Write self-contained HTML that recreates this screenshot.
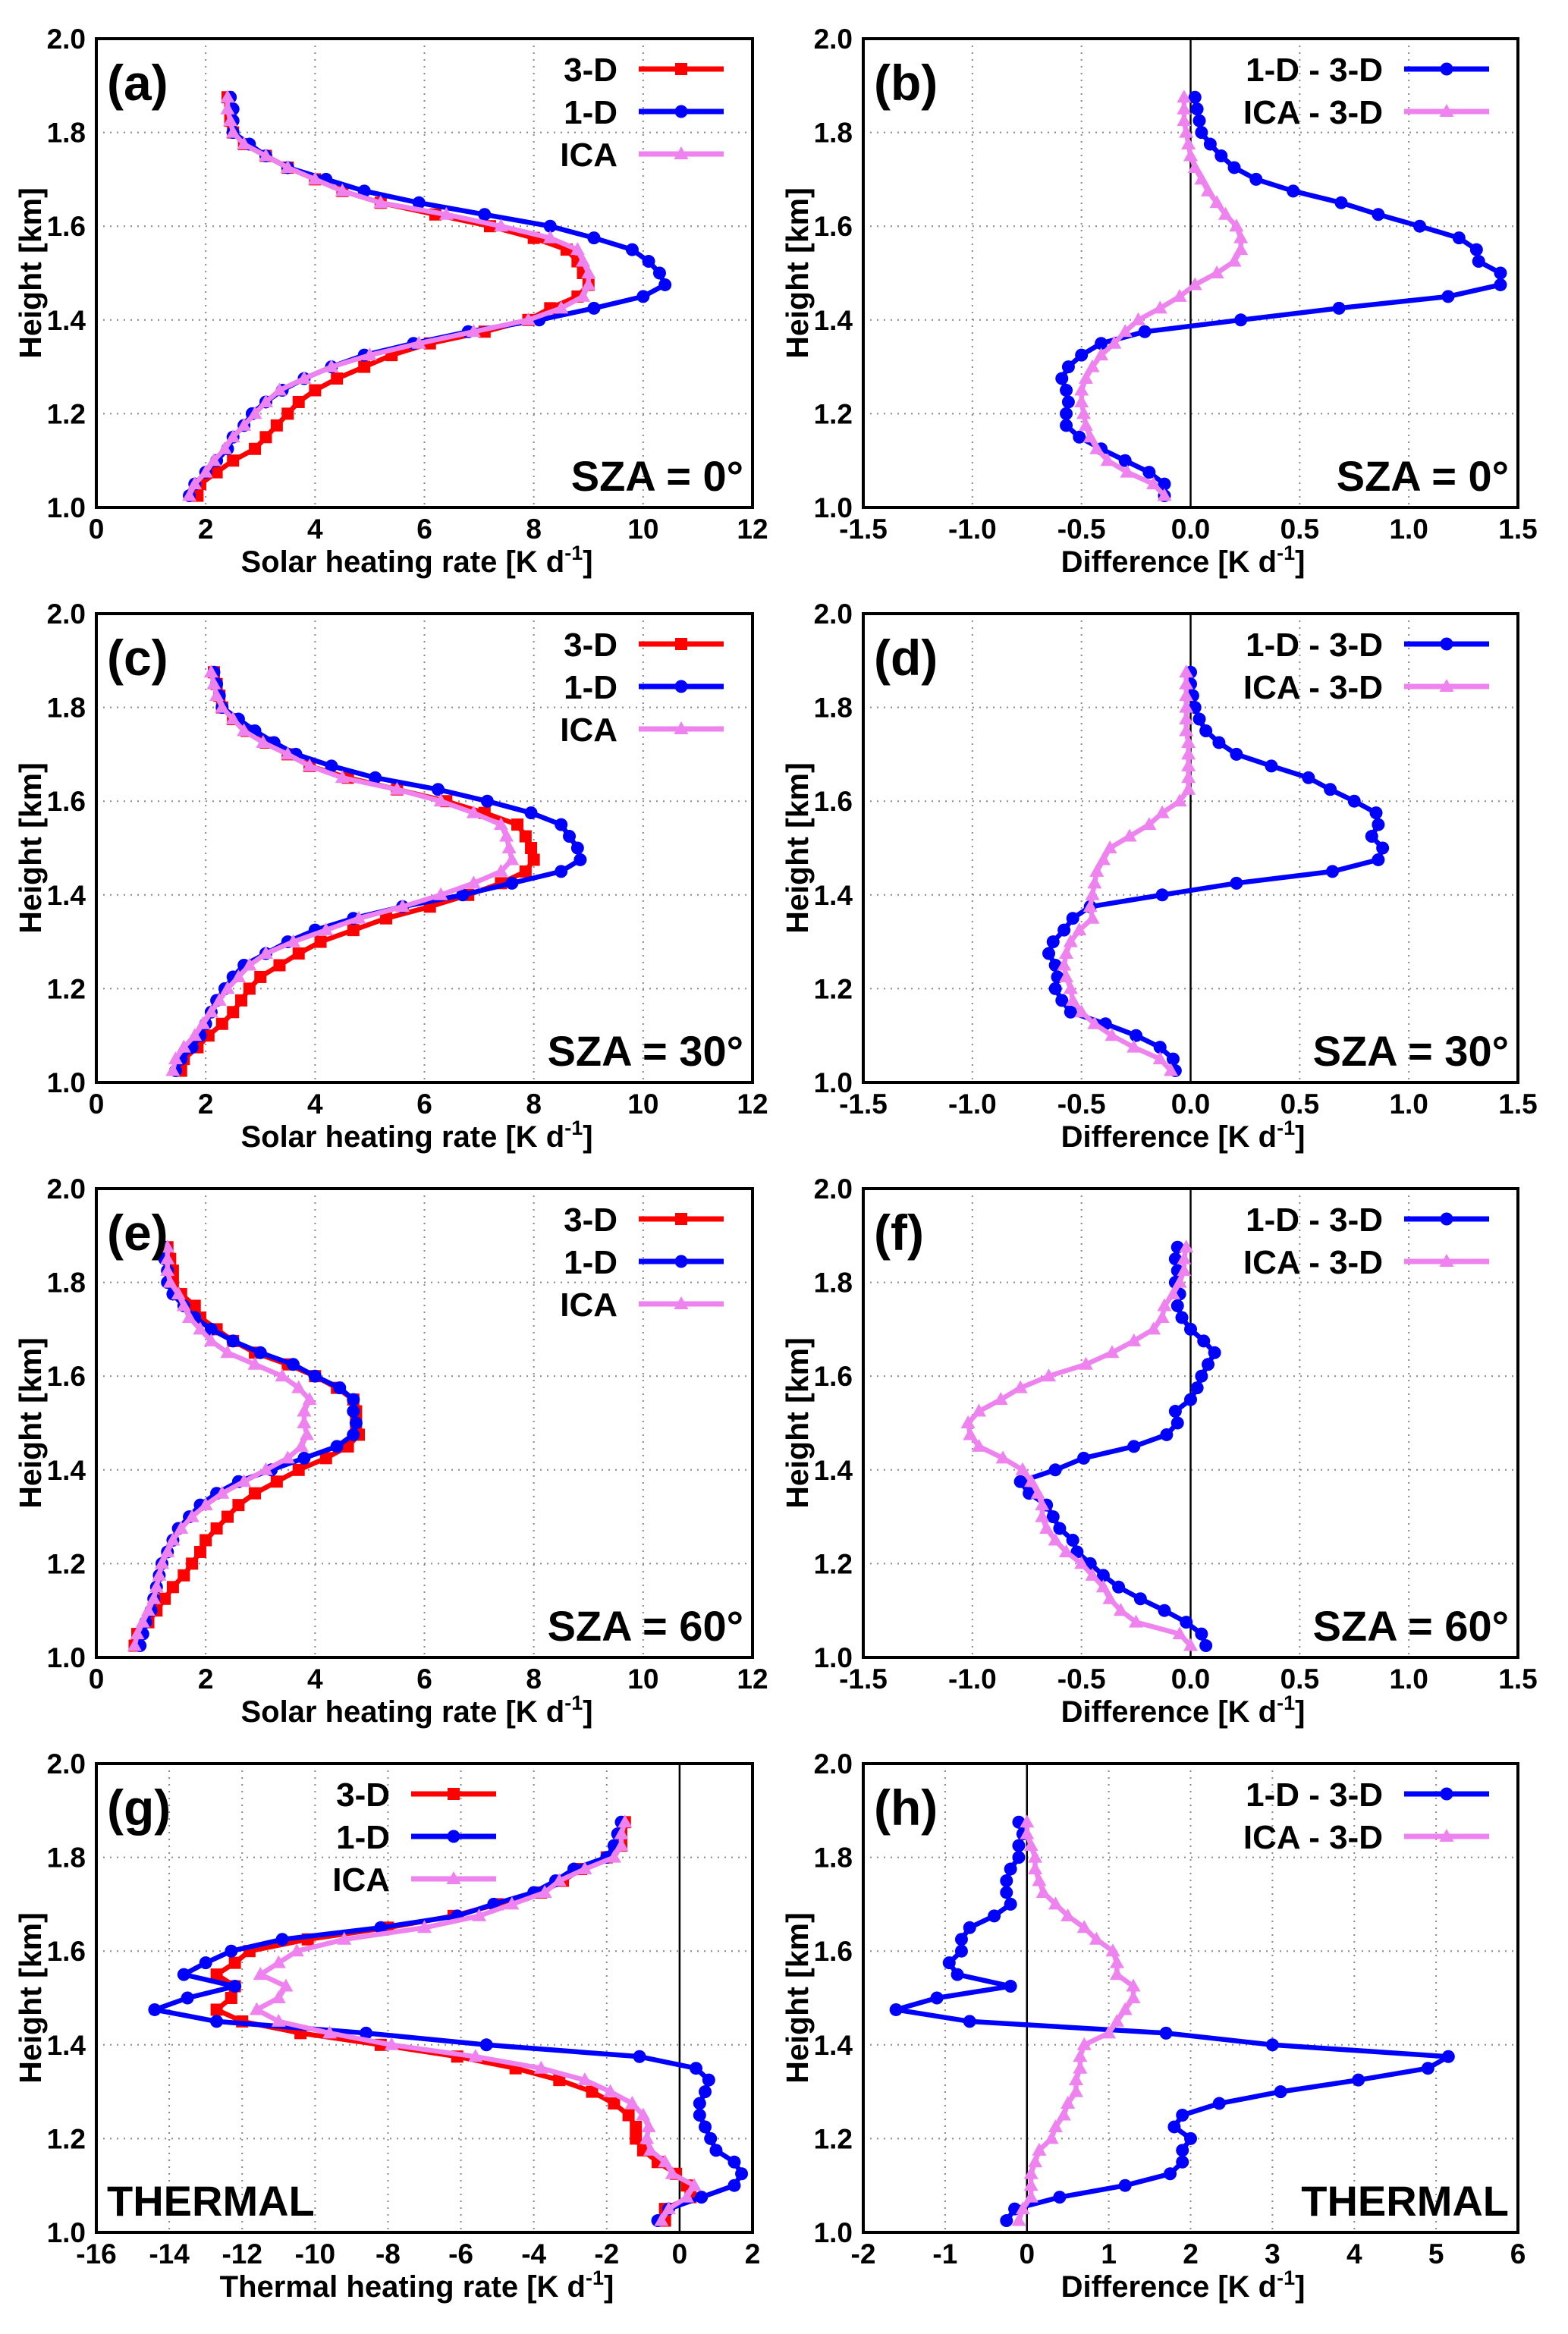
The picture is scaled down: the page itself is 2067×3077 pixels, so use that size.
<!DOCTYPE html>
<html><head><meta charset="utf-8"><title>Heating rate profiles</title>
<style>
html,body{margin:0;padding:0;background:#fff;}
svg{display:block;}
text{font-family:"Liberation Sans",Arial,sans-serif;font-weight:bold;fill:#000;}
</style></head>
<body>
<svg id="fig" width="2067" height="3077" viewBox="0 0 2067 3077" xmlns="http://www.w3.org/2000/svg"></svg>
<script>
// Heights (km)
const heights = [1.025,1.05,1.075,1.1,1.125,1.15,1.175,1.2,1.225,1.25,1.275,1.3,1.325,1.35,1.375,1.4,1.425,1.45,1.475,1.5,1.525,1.55,1.575,1.6,1.625,1.65,1.675,1.7,1.725,1.75,1.775,1.8,1.825,1.85,1.875];
const yTicks = [1.0,1.2,1.4,1.6,1.8,2.0];
const yTickLabels = ["1.0","1.2","1.4","1.6","1.8","2.0"];
const solarTicks = [0,2,4,6,8,10,12];
const solarTickLabels = ["0","2","4","6","8","10","12"];
const diffTicks = [-1.5,-1.0,-0.5,0,0.5,1.0,1.5];
const diffTickLabels = ["-1.5","-1.0","-0.5","0.0","0.5","1.0","1.5"];
const thermTicks = [-16,-14,-12,-10,-8,-6,-4,-2,0,2];
const thermTickLabels = ["-16","-14","-12","-10","-8","-6","-4","-2","0","2"];
const thDiffTicks = [-2,-1,0,1,2,3,4,5,6];
const thDiffTickLabels = ["-2","-1","0","1","2","3","4","5","6"];

// (a) SZA 0
const a3D = [1.85,1.9,2.2,2.5,2.9,3.1,3.3,3.5,3.7,4.0,4.4,4.9,5.4,6.1,7.1,7.9,8.3,8.8,9.0,8.9,8.8,8.6,8.0,7.2,6.2,5.2,4.5,4.0,3.5,3.1,2.7,2.5,2.45,2.45,2.4];
const a1D = [1.7,1.8,2.0,2.2,2.4,2.5,2.7,2.85,3.1,3.4,3.8,4.3,4.9,5.8,6.8,8.1,9.1,10.0,10.4,10.3,10.1,9.8,9.1,8.3,7.1,5.9,4.9,4.2,3.5,3.1,2.8,2.5,2.5,2.5,2.45];
const aICA = [1.7,1.8,2.0,2.15,2.35,2.5,2.7,2.9,3.1,3.35,3.8,4.3,5.0,5.9,6.9,7.9,8.5,8.9,9.0,9.0,8.9,8.8,8.3,7.4,6.4,5.2,4.5,4.0,3.5,3.1,2.7,2.5,2.45,2.4,2.4];
// (b)
const b1D = [-0.12,-0.12,-0.19,-0.3,-0.41,-0.51,-0.57,-0.57,-0.56,-0.57,-0.59,-0.56,-0.5,-0.41,-0.21,0.23,0.68,1.18,1.42,1.42,1.32,1.31,1.23,1.05,0.86,0.69,0.47,0.30,0.20,0.14,0.09,0.05,0.04,0.03,0.02];
const bICA = [-0.12,-0.17,-0.29,-0.38,-0.43,-0.46,-0.48,-0.49,-0.5,-0.5,-0.48,-0.45,-0.41,-0.35,-0.3,-0.24,-0.14,-0.05,0.02,0.12,0.2,0.23,0.23,0.21,0.16,0.12,0.08,0.05,0.02,0.0,-0.01,-0.02,-0.03,-0.03,-0.03];
// (c) SZA 30
const c3D = [1.55,1.6,1.85,2.05,2.3,2.5,2.65,2.8,3.0,3.35,3.7,4.1,4.7,5.3,6.1,6.8,7.4,7.85,8.0,7.95,7.85,7.7,7.1,6.4,5.5,4.6,3.9,3.5,3.1,2.75,2.5,2.3,2.25,2.2,2.15];
const c1D = [1.45,1.55,1.75,1.9,2.0,2.1,2.2,2.35,2.5,2.7,3.1,3.5,4.0,4.7,5.6,6.7,7.6,8.5,8.85,8.8,8.65,8.5,7.95,7.15,6.25,5.1,4.3,3.65,3.25,2.9,2.6,2.3,2.25,2.2,2.15];
const cICA = [1.4,1.45,1.6,1.8,1.95,2.1,2.25,2.4,2.6,2.8,3.1,3.6,4.2,4.8,5.6,6.3,6.9,7.4,7.6,7.55,7.5,7.4,6.9,6.3,5.5,4.5,3.9,3.5,3.05,2.7,2.5,2.3,2.2,2.15,2.1];
// (d)
const d1D = [-0.07,-0.08,-0.14,-0.25,-0.39,-0.55,-0.59,-0.62,-0.61,-0.62,-0.65,-0.63,-0.58,-0.54,-0.46,-0.13,0.21,0.65,0.86,0.88,0.83,0.86,0.85,0.75,0.64,0.54,0.37,0.21,0.13,0.07,0.04,0.02,0.01,0.0,0.0];
const dICA = [-0.09,-0.14,-0.26,-0.36,-0.44,-0.5,-0.54,-0.55,-0.57,-0.58,-0.57,-0.55,-0.51,-0.45,-0.46,-0.45,-0.44,-0.43,-0.40,-0.37,-0.28,-0.19,-0.13,-0.05,-0.01,-0.01,-0.01,-0.01,-0.01,-0.02,-0.02,-0.02,-0.02,-0.02,-0.02];
// (e) SZA 60
const e3D = [0.7,0.75,0.95,1.1,1.25,1.4,1.6,1.75,1.9,2.0,2.2,2.4,2.6,2.9,3.3,3.7,4.2,4.6,4.8,4.75,4.75,4.7,4.4,4.0,3.5,2.9,2.5,2.2,1.9,1.8,1.55,1.4,1.4,1.35,1.3];
const e1D = [0.8,0.85,0.9,1.0,1.05,1.1,1.15,1.2,1.3,1.4,1.5,1.7,1.9,2.2,2.6,3.2,3.8,4.4,4.7,4.75,4.7,4.7,4.45,4.0,3.6,3.0,2.5,2.1,1.8,1.6,1.4,1.3,1.3,1.25,1.25];
const eICA = [0.7,0.75,0.85,0.95,1.05,1.1,1.15,1.2,1.3,1.4,1.55,1.75,2.0,2.3,2.7,3.1,3.5,3.75,3.85,3.8,3.8,3.9,3.7,3.4,2.9,2.4,2.1,1.9,1.7,1.6,1.5,1.35,1.3,1.3,1.3];
// (f)
const f1D = [0.07,0.05,-0.02,-0.12,-0.23,-0.33,-0.4,-0.46,-0.52,-0.54,-0.6,-0.63,-0.66,-0.74,-0.78,-0.62,-0.49,-0.26,-0.11,-0.06,-0.07,0.0,0.03,0.05,0.08,0.11,0.06,0.0,-0.04,-0.06,-0.05,-0.07,-0.06,-0.07,-0.06];
const fICA = [0.0,-0.05,-0.25,-0.32,-0.37,-0.40,-0.45,-0.50,-0.57,-0.62,-0.66,-0.68,-0.68,-0.70,-0.73,-0.77,-0.86,-0.97,-1.01,-1.02,-0.97,-0.87,-0.78,-0.65,-0.48,-0.36,-0.26,-0.17,-0.13,-0.12,-0.08,-0.05,-0.03,-0.03,-0.02];
// (g) thermal
const g3D = [-0.4,-0.4,0.3,0.2,-0.1,-0.6,-1.0,-1.2,-1.2,-1.4,-1.8,-2.4,-3.3,-4.5,-6.1,-8.2,-10.4,-12.0,-12.7,-12.3,-12.2,-12.7,-12.2,-11.8,-10.2,-8.0,-6.2,-5.0,-3.8,-3.2,-2.7,-2.0,-1.6,-1.6,-1.5];
const g1D = [-0.6,-0.3,0.6,1.5,1.7,1.5,1.0,0.85,0.7,0.55,0.55,0.7,0.8,0.45,-1.1,-5.3,-8.6,-12.7,-14.4,-13.5,-12.2,-13.6,-13.0,-12.3,-10.9,-8.2,-6.1,-5.1,-4.0,-3.4,-2.9,-2.0,-1.8,-1.7,-1.6];
const gICA = [-0.5,-0.3,0.2,0.4,-0.2,-0.4,-0.8,-0.9,-0.85,-1.0,-1.3,-1.9,-2.6,-3.8,-5.6,-7.9,-9.6,-11.0,-11.6,-11.0,-10.8,-11.5,-11.0,-10.5,-9.2,-7.0,-5.5,-4.6,-3.7,-3.3,-2.6,-1.8,-1.6,-1.6,-1.5];
// (h)
const h1D = [-0.25,-0.15,0.4,1.2,1.75,1.9,1.9,2.0,1.8,1.9,2.35,3.1,4.05,4.9,5.15,3.0,1.7,-0.7,-1.6,-1.1,-0.2,-0.85,-0.95,-0.8,-0.8,-0.7,-0.4,-0.2,-0.25,-0.25,-0.2,-0.1,-0.1,-0.05,-0.1];
const hICA = [-0.1,-0.05,0.05,0.05,0.05,0.1,0.15,0.3,0.35,0.45,0.5,0.6,0.6,0.65,0.65,0.7,1.0,1.1,1.2,1.3,1.3,1.1,1.1,1.05,0.85,0.7,0.5,0.35,0.2,0.15,0.1,0.1,0.05,0.0,0.0];

const NS = "http://www.w3.org/2000/svg";
const svg = document.getElementById("fig");
function mk(tag, attrs, parent) {
  const el = document.createElementNS(NS, tag);
  for (const k in attrs) el.setAttribute(k, attrs[k]);
  (parent || svg).appendChild(el);
  return el;
}
const RED = "#ff0000", BLUE = "#0000ff", VIO = "#ee82ee";

function marker(g, kind, x, y, color) {
  let m;
  if (kind === "sq") m = mk("rect", {x: x-8, y: y-8, width: 16, height: 16, fill: color}, g);
  else if (kind === "ci") m = mk("circle", {cx: x, cy: y, r: 8.5, fill: color}, g);
  else m = mk("polygon", {points: `${x},${y-10} ${x-9.5},${y+7} ${x+9.5},${y+7}`, fill: color}, g);
  return m;
}

const LX = [127, 992], RX = [1138, 2001];
const rowTop = [51, 809, 1567, 2325];
const PH = 618;

const panels = [
  {id:"a", col:LX, row:0, xmin:0, xmax:12, ticks:solarTicks, labels:solarTickLabels, title:"Solar heating rate [K d", zero:false,
   series:[[a3D,RED,"sq","3-D"],[a1D,BLUE,"ci","1-D"],[aICA,VIO,"tr","ICA"]], note:"SZA = 0°"},
  {id:"b", col:RX, row:0, xmin:-1.5, xmax:1.5, ticks:diffTicks, labels:diffTickLabels, title:"Difference [K d", zero:true,
   series:[[b1D,BLUE,"ci","1-D - 3-D"],[bICA,VIO,"tr","ICA - 3-D"]], note:"SZA = 0°"},
  {id:"c", col:LX, row:1, xmin:0, xmax:12, ticks:solarTicks, labels:solarTickLabels, title:"Solar heating rate [K d", zero:false,
   series:[[c3D,RED,"sq","3-D"],[c1D,BLUE,"ci","1-D"],[cICA,VIO,"tr","ICA"]], note:"SZA = 30°"},
  {id:"d", col:RX, row:1, xmin:-1.5, xmax:1.5, ticks:diffTicks, labels:diffTickLabels, title:"Difference [K d", zero:true,
   series:[[d1D,BLUE,"ci","1-D - 3-D"],[dICA,VIO,"tr","ICA - 3-D"]], note:"SZA = 30°"},
  {id:"e", col:LX, row:2, xmin:0, xmax:12, ticks:solarTicks, labels:solarTickLabels, title:"Solar heating rate [K d", zero:false,
   series:[[e3D,RED,"sq","3-D"],[e1D,BLUE,"ci","1-D"],[eICA,VIO,"tr","ICA"]], note:"SZA = 60°"},
  {id:"f", col:RX, row:2, xmin:-1.5, xmax:1.5, ticks:diffTicks, labels:diffTickLabels, title:"Difference [K d", zero:true,
   series:[[f1D,BLUE,"ci","1-D - 3-D"],[fICA,VIO,"tr","ICA - 3-D"]], note:"SZA = 60°"},
  {id:"g", col:LX, row:3, xmin:-16, xmax:2, ticks:thermTicks, labels:thermTickLabels, title:"Thermal heating rate [K d", zero:true,
   series:[[g3D,RED,"sq","3-D"],[g1D,BLUE,"ci","1-D"],[gICA,VIO,"tr","ICA"]], note:"THERMAL", noteLeft:true, legendRight:514},
  {id:"h", col:RX, row:3, xmin:-2, xmax:6, ticks:thDiffTicks, labels:thDiffTickLabels, title:"Difference [K d", zero:true,
   series:[[h1D,BLUE,"ci","1-D - 3-D"],[hICA,VIO,"tr","ICA - 3-D"]], note:"THERMAL"}
];

panels.forEach(p => {
  const x0 = p.col[0], x1 = p.col[1];
  const y0 = rowTop[p.row], y1 = y0 + PH;
  const sx = v => x0 + (v - p.xmin) / (p.xmax - p.xmin) * (x1 - x0);
  const sy = v => y1 - (v - 1.0) / 1.0 * (y1 - y0);
  const g = mk("g", {});
  
  

  p.ticks.forEach((t, i) => {
    if (i > 0 && i < p.ticks.length - 1) {
      const l = mk("line", {x1: sx(t), x2: sx(t), y1: y0, y2: y1, stroke: "#888", "stroke-width": 2, "stroke-dasharray": "2,7"}, g);
      
      
    }
  });
  yTicks.forEach((t, i) => {
    if (i > 0 && i < yTicks.length - 1) {
      const l = mk("line", {x1: x0, x2: x1, y1: sy(t), y2: sy(t), stroke: "#888", "stroke-width": 2, "stroke-dasharray": "2,7"}, g);
      
      
    }
  });
  if (p.zero) {
    const z = mk("line", {x1: sx(0), x2: sx(0), y1: y0, y2: y1, stroke: "#000", "stroke-width": 2.5}, g);
    
    
  }
  p.series.forEach(s => {
    const vals = s[0];
    const pts = vals.map((v, i) => sx(v).toFixed(1) + "," + sy(heights[i]).toFixed(1)).join(" ");
    const sg = mk("g", {}, g);
    
    
    mk("polyline", {points: pts, fill: "none", stroke: s[1], "stroke-width": 6.5, "stroke-linejoin": "round"}, sg);
    vals.forEach((v, i) => {
      const m = marker(sg, s[2], sx(v), sy(heights[i]), s[1]);
      
      
    });
  });
  const fr = mk("rect", {x: x0, y: y0, width: x1 - x0, height: y1 - y0, fill: "none", stroke: "#000", "stroke-width": 4}, g);
  
  
  yTicks.forEach((t, i) => {
    const tx = mk("text", {x: x0 - 14, y: sy(t) + 13, "text-anchor": "end", "font-size": 37}, g);
    tx.textContent = yTickLabels[i];
    
    
  });
  p.ticks.forEach((t, i) => {
    const tx = mk("text", {x: sx(t), y: y1 + 41, "text-anchor": "middle", "font-size": 37}, g);
    tx.textContent = p.labels[i];
    
    
  });
  const xt = mk("text", {x: (x0 + x1) / 2 - 10, y: y1 + 85, "text-anchor": "middle", "font-size": 40}, g);
  xt.textContent = p.title;
  const sup = mk("tspan", {"font-size": 27, dy: -16}, xt);
  sup.textContent = "-1";
  const cl = mk("tspan", {dy: 16}, xt);
  cl.textContent = "]";
  
  
  const yt = mk("text", {x: 0, y: 0, "text-anchor": "middle", "font-size": 41,
    transform: `translate(${x0 - 73},${(y0 + y1) / 2}) rotate(-90)`}, g);
  yt.textContent = "Height [km]";
  
  
  const pl = mk("text", {x: x0 + 14, y: y0 + 81, "font-size": 66}, g);
  pl.textContent = "(" + p.id + ")";
  
  
  const lr = p.legendRight || (x1 - 178);
  p.series.forEach((s, k) => {
    const ly = y0 + 40 + k * 56;
    const lt = mk("text", {x: lr, y: ly + 16, "text-anchor": "end", "font-size": 44}, g);
    lt.textContent = s[3];
    
    
    mk("line", {x1: lr + 28, x2: lr + 140, y1: ly, y2: ly, stroke: s[1], "stroke-width": 7}, g);
    marker(g, s[2], lr + 84, ly, s[1]);
  });
  const an = p.noteLeft
    ? mk("text", {x: x0 + 14, y: y1 - 22, "font-size": 56}, g)
    : mk("text", {x: x1 - 12, y: y1 - 22, "text-anchor": "end", "font-size": 56}, g);
  an.textContent = p.note;
  
  
});
</script>
</body></html>
